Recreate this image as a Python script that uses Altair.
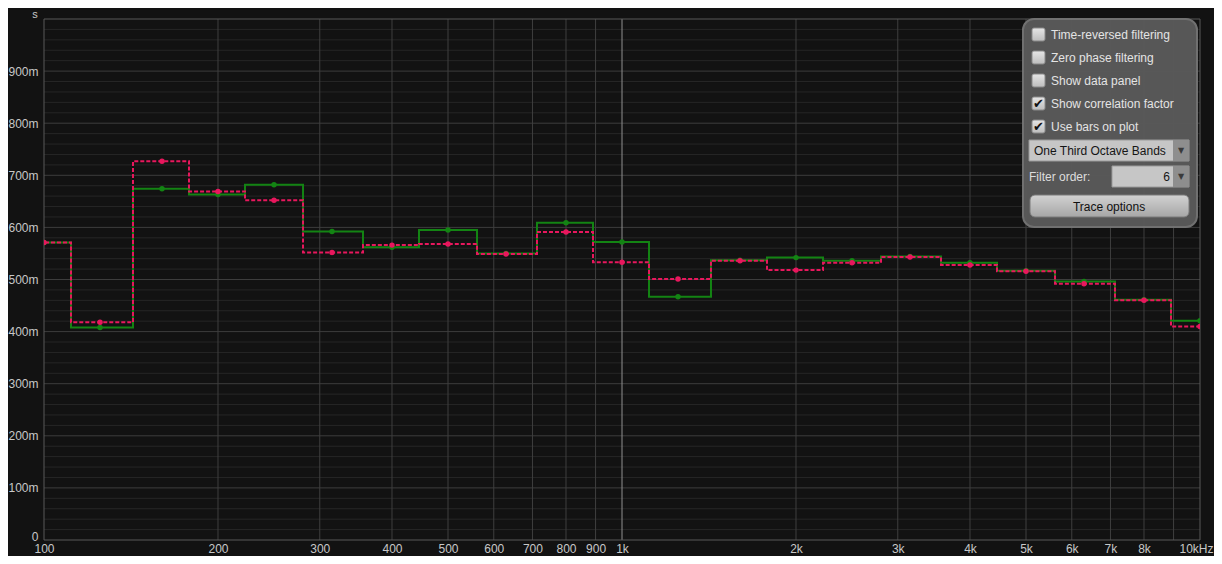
import altair as alt
import pandas as pd

# ---------------- data ----------------
band_centers = [100, 125, 160, 200, 250, 315, 400, 500, 630, 800, 1000,
                1250, 1600, 2000, 2500, 3150, 4000, 5000, 6300, 8000, 10000]
green_values = [0.571, 0.408, 0.674, 0.663, 0.682, 0.592, 0.562, 0.595, 0.550, 0.609, 0.572,
                0.467, 0.537, 0.542, 0.536, 0.544, 0.532, 0.517, 0.496, 0.461, 0.421]
pink_values = [0.571, 0.418, 0.727, 0.669, 0.652, 0.552, 0.566, 0.568, 0.549, 0.591, 0.533,
               0.501, 0.536, 0.518, 0.532, 0.543, 0.528, 0.516, 0.492, 0.460, 0.410]

x_tick_values = [100, 200, 300, 400, 500, 600, 700, 800, 900,
                 1000, 2000, 3000, 4000, 5000, 6000, 7000, 8000, 10000]
x_grid_values = [200, 300, 400, 500, 600, 700, 800, 900,
                 2000, 3000, 4000, 5000, 6000, 7000, 8000, 9000]
x_highlight = [1000]
y_tick_values = [0, 0.1, 0.2, 0.3, 0.4, 0.5, 0.6, 0.7, 0.8, 0.9]
y_minor_values = [round(0.02 * k, 2) for k in range(1, 50) if k % 5 != 0]

panel_checks = ["Time-reversed filtering", "Zero phase filtering", "Show data panel",
                "Show correlation factor", "Use bars on plot"]
panel_checked = [False, False, False, True, True]
band_choice = "One Third Octave Bands"
filter_label = "Filter order:"
filter_value = "6"
button_label = "Trace options"
unit_label = "s"

# ---------------- build step tables ----------------
third = 2 ** (1 / 6)


def step_rows(values, name):
    rows = []
    n = len(band_centers)
    for i, (c, v) in enumerate(zip(band_centers, values)):
        lo = c / third
        hi = band_centers[i + 1] / third if i + 1 < n else c * third
        rows.append({"f": lo, "v": v, "i": 2 * i, "s": name})
        rows.append({"f": hi, "v": v, "i": 2 * i + 1, "s": name})
    return pd.DataFrame(rows)


green_steps = step_rows(green_values, "green")
pink_steps = step_rows(pink_values, "pink")
green_pts = pd.DataFrame({"f": band_centers, "v": green_values})
pink_pts = pd.DataFrame({"f": band_centers, "v": pink_values})

GREEN = "#138413"
PINK = "#e8175d"
LABEL = "#c8c8c8"

xscale = alt.Scale(type="log", domain=[100, 10000], nice=False, zero=False)
yscale = alt.Scale(domain=[0, 1.0], nice=False, zero=True)

one = pd.DataFrame({"k": [0]})

x_axis = alt.Axis(
    values=x_tick_values, grid=False, ticks=False, domain=False, title=None,
    labelExpr="datum.value >= 10000 ? '10kHz' : (datum.value >= 1000 ? format(datum.value/1000, 'd') + 'k' : format(datum.value, 'd'))",
    labelFont="Liberation Sans Narrow, Liberation Sans", labelFontSize=12,
    labelColor=LABEL, labelPadding=3, labelOverlap=False, labelFlush=False,
    labelBound=False,
    labelOffset={"condition": {"test": "datum.value >= 10000", "value": -4}, "value": 0})
y_axis = alt.Axis(
    values=y_tick_values, grid=False, ticks=False, domain=False, title=None,
    labelExpr="datum.value == 0 ? '0' : format(datum.value * 1000, '.0f') + 'm'",
    labelFont="Liberation Sans", labelFontSize=12, labelColor=LABEL,
    labelPadding=6, labelOverlap=False, labelFlush=False, labelBound=False,
    labelOffset={"condition": {"test": "datum.value == 0", "value": -4}, "value": 0})

# ---------------- grid (carries the axes) ----------------
hminor = alt.Chart(pd.DataFrame({"v": y_minor_values})).mark_rule(
    color="#262626", strokeWidth=1).encode(y=alt.Y("v:Q", scale=yscale, axis=y_axis))
hmajor = alt.Chart(pd.DataFrame({"v": y_tick_values[1:]})).mark_rule(
    color="#3d3d3d", strokeWidth=1).encode(y=alt.Y("v:Q", scale=yscale, axis=y_axis))
vgrid = alt.Chart(pd.DataFrame({"f": x_grid_values})).mark_rule(
    color="#3f3f3f", strokeWidth=1).encode(x=alt.X("f:Q", scale=xscale, axis=x_axis))
vhigh = alt.Chart(pd.DataFrame({"f": x_highlight})).mark_rule(
    color="#8f8f8f", strokeWidth=1).encode(x=alt.X("f:Q", scale=xscale, axis=x_axis))
frame = alt.Chart(one).mark_rect(fill=None, stroke="#595959", strokeWidth=1).encode(
    x=alt.value(0), x2=alt.value(1156), y=alt.value(0), y2=alt.value(521))

# ---------------- data layers ----------------
green_line = alt.Chart(green_steps).mark_line(
    color=GREEN, strokeWidth=2, clip=True).encode(
    x=alt.X("f:Q", scale=xscale, axis=x_axis),
    y=alt.Y("v:Q", scale=yscale, axis=y_axis),
    order="i:Q")
green_dot = alt.Chart(green_pts).mark_circle(color=GREEN, size=30, opacity=1, clip=True).encode(
    x=alt.X("f:Q", scale=xscale, axis=x_axis), y=alt.Y("v:Q", scale=yscale, axis=y_axis))
pink_line = alt.Chart(pink_steps).mark_line(
    color=PINK, strokeWidth=2, strokeDash=[4, 2], clip=True).encode(
    x=alt.X("f:Q", scale=xscale, axis=x_axis), y=alt.Y("v:Q", scale=yscale, axis=y_axis),
    order="i:Q")
pink_dot = alt.Chart(pink_pts).mark_circle(color=PINK, size=30, opacity=1, clip=True).encode(
    x=alt.X("f:Q", scale=xscale, axis=x_axis), y=alt.Y("v:Q", scale=yscale, axis=y_axis))

unit = alt.Chart(one).mark_text(text=unit_label, font="Liberation Sans", fontSize=11,
                                color=LABEL, align="center", baseline="middle").encode(
    x=alt.value(-9), y=alt.value(-4))

# ---------------- control panel (decoration) ----------------
OX, OY = 44, 19  # page coordinates of the plot origin


def box(x1, y1, x2, y2, fill, stroke=None, sw=1, r=0, opacity=1.0):
    kw = dict(fill=fill, cornerRadius=r, opacity=opacity)
    if stroke is not None:
        kw.update(stroke=stroke, strokeWidth=sw)
    return alt.Chart(one).mark_rect(**kw).encode(
        x=alt.value(x1 - OX), x2=alt.value(x2 - OX),
        y=alt.value(y1 - OY), y2=alt.value(y2 - OY))


def label(x, y, txt, color="#e4e4e4", align="left", size=12, font="Liberation Sans"):
    return alt.Chart(one).mark_text(text=txt, font=font, fontSize=size, color=color,
                                    align=align, baseline="middle").encode(
        x=alt.value(x - OX), y=alt.value(y - OY))


def grad(c1, c2):
    return alt.Gradient(gradient="linear", x1=0, x2=0, y1=0, y2=1,
                        stops=[alt.GradientStop(color=c1, offset=0),
                               alt.GradientStop(color=c2, offset=1)])


panel_layers = [box(1023, 19, 1197, 227, "#5a5a5a", stroke="#747474", sw=2, r=11, opacity=0.96)]
row_y = [34.5, 57.5, 80.5, 103.5, 126.5]
for txt, chk, yy in zip(panel_checks, panel_checked, row_y):
    panel_layers.append(box(1032, yy - 6.5, 1045, yy + 6.5, grad("#e6e6e6", "#bdbdbd"),
                            stroke="#8a8a8a", r=2))
    if chk:
        panel_layers.append(label(1038.5, yy + 0.5, "\u2714", color="#111111", align="center",
                                  size=13, font="DejaVu Sans"))
    panel_layers.append(label(1051, yy, txt))

# dropdown
panel_layers.append(box(1029, 140, 1189, 161, "#c6c6c6", stroke="#9a9a9a"))
panel_layers.append(box(1173, 140, 1189, 161, "#8e8e8e"))
panel_layers.append(label(1181, 151, "\u25BC", color="#3a3a3a", align="center", size=8,
                          font="DejaVu Sans"))
panel_layers.append(label(1034, 151, band_choice, color="#151515"))
# filter order
panel_layers.append(label(1029, 177, filter_label, color="#dddddd"))
panel_layers.append(box(1112, 166, 1189, 187, "#c6c6c6", stroke="#9a9a9a"))
panel_layers.append(box(1173, 166, 1189, 187, "#8e8e8e"))
panel_layers.append(label(1181, 177, "\u25BC", color="#3a3a3a", align="center", size=8,
                          font="DejaVu Sans"))
panel_layers.append(label(1170, 177, filter_value, color="#151515", align="right"))
# button
panel_layers.append(box(1030, 195, 1189, 217, grad("#d2d2d2", "#a6a6a6"),
                        stroke="#7a7a7a", r=5))
panel_layers.append(label(1109, 206.5, button_label, color="#111111", align="center"))

chart = alt.layer(
    hminor, hmajor, vgrid, vhigh, frame,
    green_line, green_dot, pink_line, pink_dot,
    unit, *panel_layers
).properties(
    width=1156, height=521,
    autosize=alt.AutoSizeParams(type="none"),
    padding={"left": 36, "top": 11, "right": 14, "bottom": 16},
    background="#121212",
).configure_view(stroke=None)

chart.save("out.html", embed_options={"renderer": "svg", "actions": False})
